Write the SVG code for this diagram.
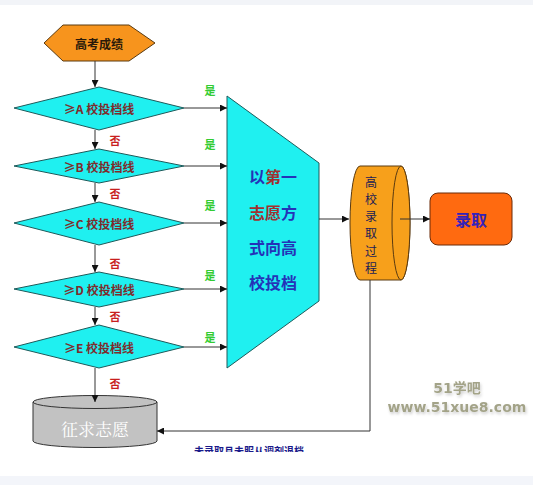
<svg xmlns="http://www.w3.org/2000/svg" width="533" height="485" viewBox="0 0 533 485">
<defs>
<marker id="ah" viewBox="0 0 10 10" refX="10" refY="5" markerWidth="7" markerHeight="7" orient="auto" markerUnits="userSpaceOnUse">
<path d="M0,0 L10,5 L0,10 Z" fill="#111"/>
</marker>
<clipPath id="clipNote"><rect x="190" y="444" width="120" height="8"/></clipPath>
<filter id="sh" x="-10%" y="-30%" width="120%" height="160%">
<feGaussianBlur in="SourceAlpha" stdDeviation="1.5"/>
<feOffset dx="1" dy="2" result="b"/>
<feFlood flood-color="#000" flood-opacity="0.2"/>
<feComposite in2="b" operator="in"/>
<feMerge><feMergeNode/><feMergeNode in="SourceGraphic"/></feMerge>
</filter>
</defs>
<style>
.dia{fill:#1ff0f0;stroke:#1e5a5a;stroke-width:1}
.dt{font-family:"Noto Sans CJK SC","Liberation Serif",serif;font-size:12px;font-weight:bold;fill:#7e2c2c;text-anchor:middle;dominant-baseline:central}
.yes{font-family:"Noto Sans CJK SC",sans-serif;font-size:11px;font-weight:bold;fill:#33cc33;text-anchor:middle;dominant-baseline:central}
.no{font-family:"Noto Sans CJK SC",sans-serif;font-size:11px;font-weight:bold;fill:#c81e1e;text-anchor:middle;dominant-baseline:central}
.arr{stroke:#333;stroke-width:1;fill:none;marker-end:url(#ah)}
.tz{font-family:"Noto Sans CJK SC",sans-serif;font-size:16px;font-weight:bold;fill:#2433b8;text-anchor:middle;dominant-baseline:central}
.cy{font-family:"Noto Sans CJK SC",sans-serif;font-size:12px;fill:#1c1c55;text-anchor:middle;dominant-baseline:central}
.wm{font-family:"DejaVu Sans","Noto Sans CJK SC",sans-serif;font-weight:bold;fill:#a3a388;text-anchor:middle;dominant-baseline:central}
</style>
<rect x="0" y="0" width="533" height="485" fill="#ffffff"/>
<rect x="0" y="0" width="533" height="5" fill="#f2f4f8"/>
<rect x="0" y="476" width="533" height="9" fill="#f3f5fa"/>

<g id="start">
<polygon points="44,43 63,25 129,25 155,43 129,61 63,61" fill="#f7941d" stroke="#5a3a10" stroke-width="1"/>
<text x="99" y="43" font-family="Noto Sans CJK SC,sans-serif" font-size="12" font-weight="bold" fill="#2a1a0a" text-anchor="middle" dominant-baseline="central">高考成绩</text>
</g>

<g id="dA"><polygon class="dia" points="14,108 99,87 184,108 99,130"/><text class="dt" x="99" y="108">≥A 校投档线</text></g>
<g id="dB"><polygon class="dia" points="14,166 99,149 184,166 99,183"/><text class="dt" x="99" y="166">≥B 校投档线</text></g>
<g id="dC"><polygon class="dia" points="14,223 99,202 184,223 99,245"/><text class="dt" x="99" y="223">≥C 校投档线</text></g>
<g id="dD"><polygon class="dia" points="14,289 99,272 184,289 99,307"/><text class="dt" x="99" y="289">≥D 校投档线</text></g>
<g id="dE"><polygon class="dia" points="14,347 99,325 184,347 99,368"/><text class="dt" x="99" y="347">≥E 校投档线</text></g>

<g id="trap">
<polygon points="227,96 319,163 319,301 227,368" fill="#1ff0f0" stroke="#1e5a5a" stroke-width="1"/>
<text class="tz" x="273" y="176"><tspan>以</tspan><tspan fill="#a03030">第</tspan><tspan>一</tspan></text>
<text class="tz" x="273" y="212"><tspan fill="#a03030">志愿</tspan><tspan>方</tspan></text>
<text class="tz" x="273" y="247">式向高</text>
<text class="tz" x="273" y="282">校投档</text>
</g>

<g id="process">
<path d="M360,166 L401,166 A9,57 0 0 1 401,280 L360,280 A10,57 0 0 1 360,166 Z" fill="#f7a01b" stroke="#5a3a10" stroke-width="1"/>
<ellipse cx="401" cy="223" rx="9" ry="57" fill="#f7a01b" stroke="#5a3a10" stroke-width="1"/>
<text class="cy" x="371" y="181">高</text>
<text class="cy" x="371" y="198">校</text>
<text class="cy" x="371" y="215">录</text>
<text class="cy" x="371" y="232">取</text>
<text class="cy" x="371" y="250">过</text>
<text class="cy" x="371" y="267">程</text>
</g>

<g id="admit">
<rect x="430" y="193" width="82" height="52" rx="8" fill="#ff6a10" stroke="#6a2a08" stroke-width="1"/>
<text x="471" y="219" font-family="Noto Sans CJK SC,sans-serif" font-size="16" font-weight="bold" fill="#3522b8" text-anchor="middle" dominant-baseline="central">录取</text>
</g>

<g id="solicit">
<path d="M33,402 L33,441 A62,6.5 0 0 0 157,441 L157,402" fill="#c2c2c2" stroke="#333" stroke-width="1"/>
<ellipse cx="95" cy="402" rx="62" ry="6.5" fill="#c2c2c2" stroke="#333" stroke-width="1"/>
<text x="95" y="428" font-family="Noto Serif CJK SC,Noto Sans CJK SC,serif" font-size="17" fill="#ffffff" text-anchor="middle" dominant-baseline="central">征求志愿</text>
</g>

<g id="connectors">
<line class="arr" x1="95" y1="61" x2="95" y2="87"/>
<line class="arr" x1="95" y1="130" x2="95" y2="149"/>
<line class="arr" x1="95" y1="183" x2="95" y2="202"/>
<line class="arr" x1="95" y1="245" x2="95" y2="272"/>
<line class="arr" x1="95" y1="307" x2="95" y2="325"/>
<line class="arr" x1="95" y1="368" x2="95" y2="402"/>
<line class="arr" x1="184" y1="108" x2="227" y2="108"/>
<line class="arr" x1="184" y1="166" x2="227" y2="166"/>
<line class="arr" x1="184" y1="223" x2="227" y2="223"/>
<line class="arr" x1="184" y1="289" x2="227" y2="289"/>
<line class="arr" x1="184" y1="347" x2="227" y2="347"/>
<line class="arr" x1="319" y1="219" x2="349" y2="219"/>
<line class="arr" x1="400" y1="219" x2="430" y2="219"/>
<path class="arr" d="M370,280 L370,431 L157,431"/>
<text class="yes" x="210" y="90">是</text>
<text class="yes" x="210" y="144">是</text>
<text class="yes" x="210" y="205">是</text>
<text class="yes" x="210" y="275">是</text>
<text class="yes" x="210" y="337">是</text>
<text class="no" x="115" y="140">否</text>
<text class="no" x="115" y="193">否</text>
<text class="no" x="115" y="263">否</text>
<text class="no" x="115" y="316">否</text>
<text class="no" x="115" y="383">否</text>
<text clip-path="url(#clipNote)" x="194" y="450" font-family="Noto Sans CJK SC,sans-serif" font-size="10" font-weight="bold" fill="#1a1a8a" dominant-baseline="central">未录取且未服从调剂退档</text>
</g>

<g id="watermark" filter="url(#sh)">
<text class="wm" x="457" y="388" font-size="14">51学吧</text>
<text class="wm" x="457" y="407" font-size="14">www.51xue8.com</text>
</g>
</svg>
